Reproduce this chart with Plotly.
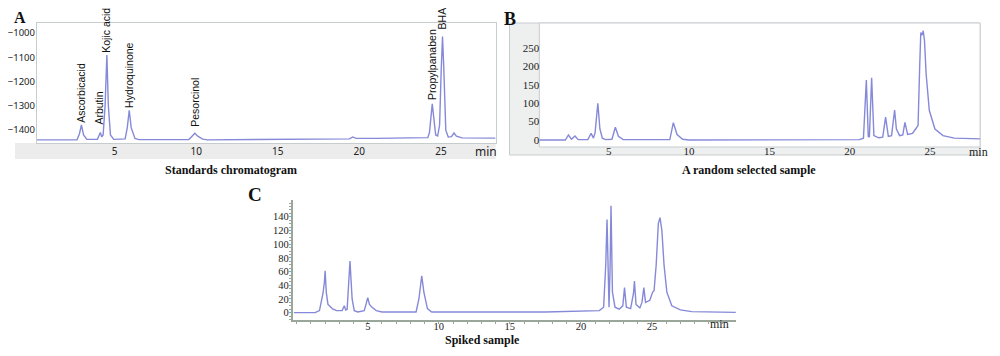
import plotly.graph_objects as go

# ---------------- data ----------------
# Panel A: standards chromatogram (time in min, signal)
a_time = [0.24, 2.7, 2.85, 2.97, 3.1, 3.3, 3.95, 4.05, 4.13, 4.22, 4.3, 4.42, 4.53, 4.62, 4.75, 4.95,
          5.65, 5.78, 5.9, 6.02, 6.25, 6.5, 9.55, 9.75, 9.92, 10.1, 10.4, 10.7, 18.0, 19.4, 19.6, 19.8,
          21.0, 22.5, 23.0, 23.6, 24.2, 24.3, 24.4, 24.47, 24.55, 24.68, 24.8, 24.92, 25.02, 25.1, 25.18,
          25.3, 25.45, 25.65, 25.8, 25.95, 26.3, 28.35]
a_signal = [-1440, -1440, -1415, -1379, -1420, -1438, -1438, -1425, -1410, -1428, -1420, -1300, -1091, -1300, -1420, -1438,
            -1436, -1390, -1318, -1390, -1434, -1439, -1439, -1425, -1413, -1425, -1437, -1440, -1439, -1436, -1428, -1434,
            -1434, -1432, -1430, -1432, -1431, -1410, -1330, -1292, -1340, -1420, -1424, -1380, -1150, -1015, -1150,
            -1400, -1428, -1427, -1412, -1425, -1432, -1433]
a_names = ["Ascorbicacid", "Arbutin", "Kojic acid", "Hydroquinone", "Pesorcinol", "Propylpanaben", "BHA"]
a_name_time = [2.97, 4.02, 4.5, 5.85, 9.92, 24.45, 25.06]
a_name_level = [-1372, -1381, -1086, -1311, -1389, -1278, -990]
a_yticks = [-1000, -1100, -1200, -1300, -1400]

# Panel B: a random selected sample
b_time = [0.68, 2.3, 2.49, 2.68, 2.9, 3.1, 3.7, 3.9, 4.05, 4.15, 4.32, 4.45, 4.6, 4.8, 5.2, 5.41, 5.6, 5.9,
          8.8, 9.02, 9.25, 9.6, 10.0, 20.6, 20.85, 21.03, 21.15, 21.22, 21.36, 21.5, 21.8, 22.05, 22.23, 22.4,
          22.6, 22.74, 22.79, 22.9, 23.1, 23.3, 23.43, 23.6, 23.9, 24.13, 24.25, 24.35, 24.42, 24.5, 24.57,
          24.65, 24.75, 24.95, 25.3, 25.8, 26.5, 28.1]
b_signal = [0, 0, 13.6, 2, 11, 1, 1, 18, 5, 20, 100, 30, 5, 1, 2, 34.5, 10, 1,
            1, 47, 15, 2, 0, 1, 5, 163, 10, 8, 169, 12, 6, 8, 62, 10,
            12, 64, 81.5, 30, 12, 14, 48, 15, 18, 32, 40, 200, 292, 285, 297,
            270, 180, 80, 30, 12, 5, 3]
b_yticks = [0, 50, 100, 150, 200, 250]

# Panel C: spiked sample
c_time = [-0.2, 1.3, 1.6, 1.85, 1.95, 2.0, 2.08, 2.2, 2.3, 2.5, 2.8, 3.2, 3.35, 3.45, 3.55, 3.75, 3.9, 4.05, 4.3,
          4.75, 4.9, 5.0, 5.12, 5.3, 5.6, 6.0, 8.4, 8.6, 8.8, 8.95, 9.2, 9.5, 17.5, 19.5, 21.3, 21.6, 21.75,
          21.84, 21.92, 21.98, 22.05, 22.12, 22.22, 22.4, 22.7, 22.95, 23.07, 23.2, 23.5, 23.65, 23.7, 23.77,
          23.88, 24.15, 24.3, 24.43, 24.55, 24.85, 25.05, 25.15, 25.3, 25.45, 25.57, 25.7, 25.85, 26.05, 26.4,
          27.0, 27.8, 30.9]
c_signal = [0, 0, 3, 28, 45, 61, 30, 12, 10, 6, 3, 3, 10, 4, 5, 75.5, 20, 3, 1,
            3, 14, 22, 12, 8, 3, 1, 1, 20, 53.6, 30, 6, 1, 1, 2, 3, 8, 70,
            136, 40, 8, 60, 156, 30, 8, 5, 10, 36.5, 8, 6, 20, 28, 46,
            12, 7, 15, 36.5, 15, 18, 30, 32, 70, 130, 138.7, 120, 70, 30, 10,
            4, 1.5, 0.5]
c_yticks = [0, 20, 40, 60, 80, 100, 120, 140]

x_ticks = [5, 10, 15, 20, 25]

# ---------------- figure ----------------
# the page body has an 8px margin, so the figure is drawn from (8, 8)
OFF = 8
W, H = 1000 - OFF, 356 - OFF
def px(x):
    return (x - OFF) / W
def py(y):
    return 1 - (y - OFF) / H

LINE = "#8589d8"
FRAME = "#c7cccf"
SANS = "Noto Sans"
LSANS = "Liberation Sans"
SERIF = "Liberation Serif"

fig = go.Figure()
fig.add_trace(go.Scatter(x=a_time, y=a_signal, mode="lines", line=dict(color=LINE, width=1.4),
                         xaxis="x", yaxis="y", hoverinfo="skip"))
fig.add_trace(go.Scatter(x=b_time, y=b_signal, mode="lines", line=dict(color=LINE, width=1.4),
                         xaxis="x2", yaxis="y2", hoverinfo="skip"))
fig.add_trace(go.Scatter(x=c_time, y=c_signal, mode="lines", line=dict(color=LINE, width=1.4),
                         xaxis="x3", yaxis="y3", hoverinfo="skip"))

layout = dict(
    width=W, height=H, margin=dict(l=0, r=0, t=0, b=0),
    paper_bgcolor="white", plot_bgcolor="rgba(0,0,0,0)", showlegend=False,
    xaxis=dict(domain=[px(32), px(493)], range=[0.24, 28.35], anchor="y", showline=True, mirror=True,
               linecolor=FRAME, tickvals=x_ticks, showgrid=False, zeroline=False, ticks="",
               ticklabelstandoff=-1,
               tickfont=dict(family=SANS, size=10, color="#222")),
    yaxis=dict(domain=[py(143), py(23)], range=[-1453, -959], anchor="x", tickvals=a_yticks,
               showgrid=False, zeroline=False, showline=True, mirror=True, linecolor=FRAME,
               ticks="", ticklabelstandoff=-1,
               tickfont=dict(family=SANS, size=9.5, color="#222")),
    xaxis2=dict(domain=[px(537), px(980)], range=[0.68, 28.11], anchor="y2", showline=False,
                tickvals=x_ticks, showgrid=False, zeroline=False, ticks="", ticklabelstandoff=-4,
                tickfont=dict(family=SERIF, size=11, color="#222")),
    yaxis2=dict(domain=[py(147), py(23)], range=[-19, 318], anchor="x2", tickvals=b_yticks,
                showgrid=False, zeroline=False, showline=False, ticks="", ticklabelstandoff=-1,
                tickfont=dict(family=SERIF, size=11, color="#222")),
    xaxis3=dict(domain=[px(289), px(735)], range=[-0.29, 30.94], anchor="y3", showline=True,
                linecolor="#9aa69a", linewidth=1.5, tickvals=x_ticks, showgrid=False, zeroline=False,
                ticks="outside", ticklen=2, tickcolor="#9aa69a", ticklabelstandoff=-6,
                minor=dict(dtick=1, ticks="outside", ticklen=2, tickcolor="#9aa69a"),
                tickfont=dict(family=SERIF, size=10.5, color="#222")),
    yaxis3=dict(domain=[py(320), py(200)], range=[-10.7, 164.5], anchor="x3", tickvals=c_yticks,
                showgrid=False, zeroline=False, showline=True, linecolor="#9aa69a", linewidth=1.5,
                ticks="outside", ticklen=2, tickcolor="#9aa69a", ticklabelstandoff=-2,
                minor=dict(dtick=5, ticks="outside", ticklen=2, tickcolor="#9aa69a"),
                tickfont=dict(family=SERIF, size=10.5, color="#222")),
)
fig.update_layout(**layout)

shapes = [
    # panel A bottom band
    dict(type="rect", xref="paper", yref="paper", x0=px(10), x1=px(493), y0=py(159), y1=py(143),
         fillcolor="#ececec", line=dict(width=0), layer="below"),
    # panel B frame and left/bottom strips
    dict(type="rect", xref="paper", yref="paper", x0=px(507), x1=px(980), y0=py(155), y1=py(23),
         fillcolor="#eef0f0", line=dict(color=FRAME, width=1), layer="below"),
    dict(type="rect", xref="paper", yref="paper", x0=px(537), x1=px(980), y0=py(147), y1=py(23),
         fillcolor="white", line=dict(color=FRAME, width=1), layer="below"),
]
fig.update_layout(shapes=shapes)

ann = []
for name, t, lv in zip(a_names, a_name_time, a_name_level):
    ann.append(dict(x=t, y=lv, xref="x", yref="y", text=name, textangle=-90, showarrow=False,
                    xanchor="center", yanchor="bottom", borderpad=0,
                    font=dict(family=LSANS, size=10.5, color="#111")))
titles = [("Standards chromatogram", 227, 170), ("A random selected sample", 748, 170), ("Spiked sample", 480, 340)]
for t, x, y in titles:
    ann.append(dict(x=px(x), y=py(y), xref="paper", yref="paper", text="<b>" + t + "</b>", showarrow=False,
                    xanchor="center", yanchor="middle", font=dict(family=SERIF, size=12, color="#111")))
for lab, x, y, s in [("A", 8, 8, 16), ("B", 500, 8, 18), ("C", 243, 183, 19)]:
    ann.append(dict(x=px(x), y=py(y), xref="paper", yref="paper", text="<b>" + lab + "</b>", showarrow=False,
                    xanchor="left", yanchor="top", borderpad=0,
                    font=dict(family=SERIF, size=s, color="#111")))
for x, y, fam in [(483, 152, SANS), (978, 152, SERIF), (718, 324, SERIF)]:
    ann.append(dict(x=px(x), y=py(y), xref="paper", yref="paper", text="min", showarrow=False,
                    xanchor="center", yanchor="middle", font=dict(family=fam, size=12, color="#222")))
fig.update_layout(annotations=ann)

fig.write_html("out.html")
